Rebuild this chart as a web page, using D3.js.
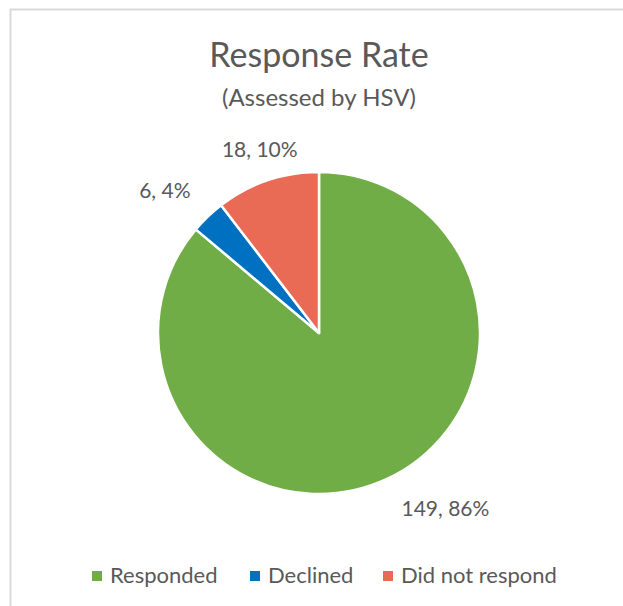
<!DOCTYPE html>
<html lang="en">
<head>
<meta charset="utf-8">
<title>Response Rate</title>
<script src="https://cdn.jsdelivr.net/npm/d3@7"></script>
<style>
  body { margin: 0; background: #fff; }
  text { font-family: Lato, "Open Sans", sans-serif; fill: #595959; }
</style>
</head>
<body>
<script>
// data
var categories = ["Responded", "Declined", "Did not respond"];
var counts = [149, 6, 18];
var percents = ["86%", "4%", "10%"];
var colors = ["#70AD47", "#0070C0", "#E96B56"];

var width = 623, height = 606;
var cx = 319, cy = 333, radius = 161;

var svg = d3.select("body").append("svg")
    .attr("width", width)
    .attr("height", height);

// chart border (only top and left edges fall inside the frame)
svg.append("rect")
    .attr("x", 10.5).attr("y", 9.5)
    .attr("width", width).attr("height", height)
    .attr("fill", "white")
    .attr("stroke", "#d9d9d9")
    .attr("stroke-width", 2);

// titles
svg.append("text")
    .attr("x", cx).attr("y", 67)
    .attr("text-anchor", "middle")
    .style("font-size", "34px")
    .text("Response Rate");
svg.append("text")
    .attr("x", cx).attr("y", 106)
    .attr("text-anchor", "middle")
    .style("font-size", "24px")
    .text("(Assessed by HSV)");

var data = categories.map(function(c, i) {
    return {name: c, value: counts[i], pct: percents[i], color: colors[i]};
});

var pie = d3.pie().sort(null).value(function(d) { return d.value; });
var arc = d3.arc().innerRadius(0).outerRadius(radius);

var g = svg.append("g").attr("transform", "translate(" + cx + "," + cy + ")");

g.selectAll("path")
    .data(pie(data))
  .enter().append("path")
    .attr("d", arc)
    .attr("fill", function(d) { return d.data.color; })
    .attr("stroke", "white")
    .attr("stroke-width", 2.5)
    .attr("stroke-linejoin", "round");

// labels placed outside the slices, nudged like excel's best fit
var labelArc = d3.arc().innerRadius(200).outerRadius(200);
var nudges = [[42, -6], [-16, 2], [5, 6]];
g.selectAll(".lbl")
    .data(pie(data))
  .enter().append("text")
    .attr("class", "lbl")
    .attr("transform", function(d, i) {
        var p = labelArc.centroid(d);
        return "translate(" + (p[0] + nudges[i][0]) + "," + (p[1] + nudges[i][1]) + ")";
    })
    .attr("text-anchor", "middle")
    .attr("dy", "0.35em")
    .style("font-size", "21px")
    .text(function(d) { return d.data.value + ", " + d.data.pct; });

// legend
var legendX = [92, 250, 383];
var legend = svg.selectAll(".legend")
    .data(data)
  .enter().append("g")
    .attr("class", "legend")
    .attr("transform", function(d, i) { return "translate(" + legendX[i] + ",576)"; });
legend.append("rect")
    .attr("x", 0).attr("y", -5)
    .attr("width", 10).attr("height", 10)
    .attr("fill", function(d) { return d.color; });
legend.append("text")
    .attr("x", 18).attr("y", 7)
    .style("font-size", "22px")
    .text(function(d) { return d.name; });
</script>
</body>
</html>
